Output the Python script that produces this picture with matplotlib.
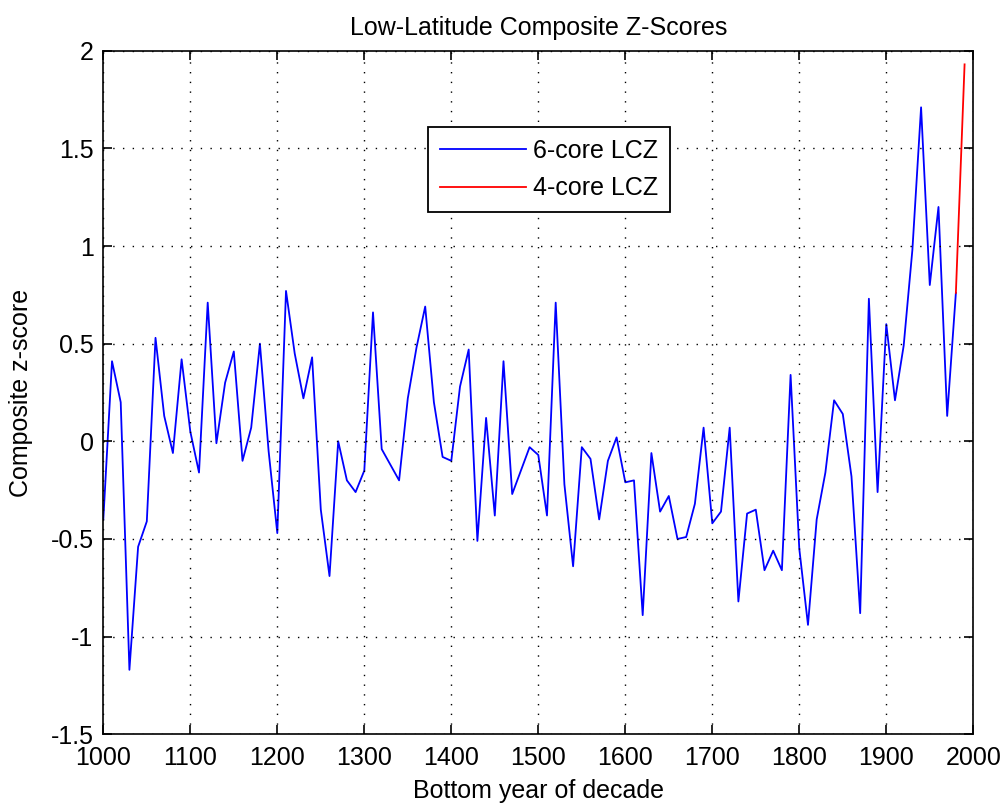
import numpy as np
import matplotlib
matplotlib.use("Agg")
import matplotlib.pyplot as plt

plt.rcParams["font.family"] = ["Liberation Sans", "DejaVu Sans"]
plt.rcParams["axes.unicode_minus"] = False

# Decade composite z-scores (bottom year of each decade)
decades_6core = np.arange(1000, 1990, 10)
lcz_6core = [
    -0.40, 0.41, 0.20, -1.17, -0.54, -0.41, 0.53, 0.13, -0.06, 0.42,   # 1000s-1090s
    0.05, -0.16, 0.71, -0.01, 0.30, 0.46, -0.10, 0.07, 0.50, -0.05,    # 1100s-1190s
    -0.47, 0.77, 0.45, 0.22, 0.43, -0.35, -0.69, 0.00, -0.20, -0.26,   # 1200s-1290s
    -0.15, 0.66, -0.04, -0.12, -0.20, 0.22, 0.48, 0.69, 0.20, -0.08,   # 1300s-1390s
    -0.10, 0.28, 0.47, -0.51, 0.12, -0.38, 0.41, -0.27, -0.15, -0.03,  # 1400s-1490s
    -0.07, -0.38, 0.71, -0.22, -0.64, -0.03, -0.09, -0.40, -0.10, 0.02,  # 1500s-1590s
    -0.21, -0.20, -0.89, -0.06, -0.36, -0.28, -0.50, -0.49, -0.32, 0.07,  # 1600s-1690s
    -0.42, -0.36, 0.07, -0.82, -0.37, -0.35, -0.66, -0.56, -0.66, 0.34,   # 1700s-1790s
    -0.55, -0.94, -0.40, -0.16, 0.21, 0.14, -0.18, -0.88, 0.73, -0.26,    # 1800s-1890s
    0.60, 0.21, 0.49, 0.98, 1.71, 0.80, 1.20, 0.13, 0.76,                # 1900s-1980s
]
decades_4core = [1980, 1990]
lcz_4core = [0.76, 1.93]

x_ticks = np.arange(1000, 2001, 100)
y_ticks = [-1.5, -1, -0.5, 0, 0.5, 1, 1.5, 2]
y_tick_labels = ["-1.5", "-1", "-0.5", "0", "0.5", "1", "1.5", "2"]

FS = 18

fig = plt.figure(figsize=(10.04, 8.06), dpi=100, facecolor="white")
ax = fig.add_axes([0.1029, 0.0890, 0.8665, 0.8481])

ax.plot(decades_6core, lcz_6core, color=(0, 0, 1), lw=1.3, label="6-core LCZ")
ax.plot(decades_4core, lcz_4core, color=(1, 0, 0), lw=1.3, label="4-core LCZ")

ax.set_xlim(1000, 2000)
ax.set_ylim(-1.5, 2)
ax.set_xticks(x_ticks)
ax.set_xticklabels([str(t) for t in x_ticks])
ax.set_yticks(y_ticks)
ax.set_yticklabels(y_tick_labels)

ax.grid(True, color="black", linestyle=(0, (1, 6)), linewidth=1.0)
ax.set_axisbelow(False)

for s in ax.spines.values():
    s.set_linewidth(1.2)
    s.set_color("black")

ax.tick_params(axis="both", direction="in", length=6.2, width=1.2,
               top=True, right=True, labelsize=FS, colors="black")
ax.tick_params(axis="x", pad=8.5)
ax.tick_params(axis="y", pad=7.0)

ax.set_title("Low-Latitude Composite Z-Scores", fontsize=FS, pad=11)
ax.set_xlabel("Bottom year of decade", fontsize=FS)
ax.set_ylabel("Composite z-score", fontsize=FS)
ax.xaxis.set_label_coords(0.5, -0.065)
ax.yaxis.set_label_coords(-0.0805, 0.5)

leg = ax.legend(loc="upper left", bbox_to_anchor=(0.3736, 0.888),
                borderaxespad=0, fontsize=FS, frameon=True, fancybox=False,
                framealpha=1, edgecolor="black", handlelength=3.45,
                handletextpad=0.3, borderpad=0.45, labelspacing=0.55)
leg.get_frame().set_linewidth(1.3)

fig.savefig("out.png", dpi=100, facecolor="white")
